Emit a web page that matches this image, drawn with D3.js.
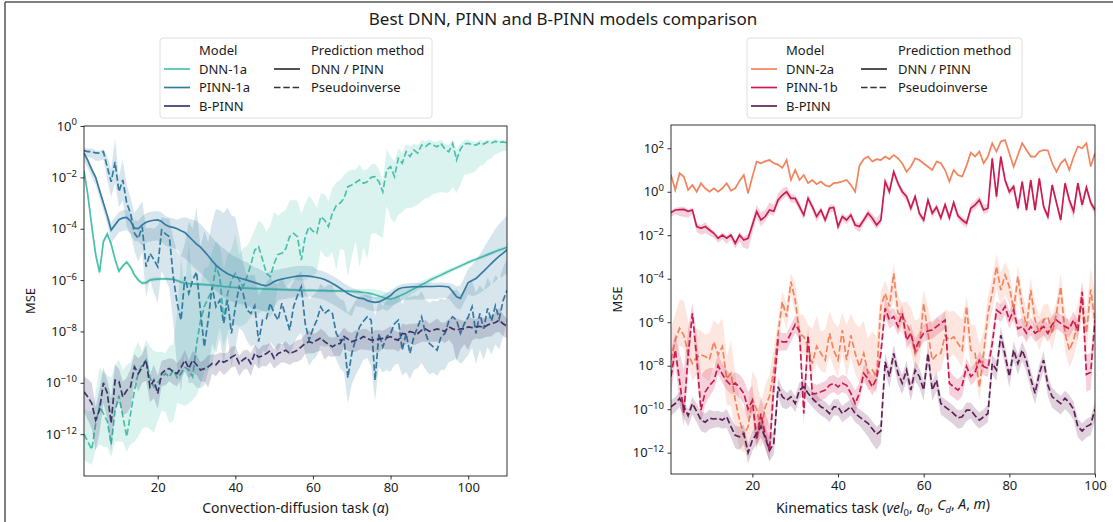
<!DOCTYPE html>
<meta charset="utf-8">
<style>
body { margin: 0; background: #fff; }
text { font-family: "Noto Sans", "DejaVu Sans", sans-serif; fill: #1a1a1a; }
</style>
<svg width="1113" height="522"></svg>
<script src="https://cdn.jsdelivr.net/npm/d3@7/dist/d3.min.js"></script>
<script>

// ---- data (log10 of MSE) ----
// convection-diffusion task, alpha = 1..110
var cdTasks = d3.range(1, 111);
var cdModels = ["DNN-1a", "PINN-1a", "B-PINN"];

var cdDnnNet = [-1.75,-2.7,-3.9,-5.0,-5.7,-4.5,-4.2,-4.6,-5.2,-5.65,
  -5.45,-5.3,-5.5,-5.8,-6.0,-6.12,-6.1,-6.0,-5.97,-5.96,
  -5.95,-5.95,-5.96,-5.97,-6.02,-6.08,-6.12,-6.14,-6.15,-6.16,
  -6.17,-6.18,-6.19,-6.2,-6.22,-6.23,-6.25,-6.26,-6.28,-6.29,
  -6.3,-6.31,-6.31,-6.32,-6.33,-6.33,-6.34,-6.35,-6.35,-6.36,
  -6.36,-6.37,-6.37,-6.38,-6.38,-6.39,-6.39,-6.4,-6.4,-6.4,
  -6.41,-6.41,-6.41,-6.42,-6.42,-6.42,-6.42,-6.43,-6.43,-6.44,
  -6.45,-6.46,-6.48,-6.5,-6.53,-6.57,-6.62,-6.67,-6.72,-6.74,
  -6.7,-6.64,-6.57,-6.5,-6.42,-6.34,-6.26,-6.18,-6.1,-6.02,
  -5.94,-5.87,-5.8,-5.73,-5.66,-5.59,-5.52,-5.45,-5.38,-5.31,
  -5.25,-5.19,-5.13,-5.07,-5.01,-4.95,-4.89,-4.83,-4.78,-4.73];
var cdDnnNetSpread = [0.15,0.15,0.2,0.2,0.15,0.12,0.1,0.1,0.1,0.1,
  0.08,0.08,0.08,0.08,0.08,0.08,0.08,0.08,0.08,0.08,
  0.06,0.06,0.06,0.06,0.06,0.06,0.06,0.06,0.06,0.06,
  0.06,0.06,0.06,0.06,0.06,0.06,0.06,0.06,0.06,0.06,
  0.06,0.06,0.06,0.06,0.06,0.06,0.06,0.06,0.06,0.06,
  0.06,0.06,0.06,0.06,0.06,0.06,0.06,0.06,0.06,0.06,
  0.06,0.06,0.06,0.06,0.06,0.06,0.06,0.06,0.06,0.06,
  0.1,0.12,0.14,0.16,0.18,0.2,0.22,0.24,0.25,0.25,
  0.25,0.24,0.22,0.2,0.18,0.16,0.15,0.14,0.13,0.12,
  0.11,0.1,0.1,0.1,0.1,0.08,0.08,0.08,0.08,0.08,
  0.08,0.08,0.08,0.08,0.08,0.08,0.08,0.08,0.08,0.08];

var cdDnnPi = [-12.0,-12.3,-12.6,-11.6,-10.9,-11.2,-11.5,-12.4,-11.1,-10.5,
  -11.3,-12.1,-11.2,-10.3,-9.6,-9.3,-9.12,-9.8,-10.16,-10.0,
  -9.8,-9.64,-9.77,-9.5,-9.8,-9.64,-9.4,-9.5,-9.77,-8.5,
  -7.6,-7.04,-6.7,-6.4,-5.48,-5.87,-7.56,-6.52,-6.0,-5.74,
  -6.0,-6.26,-5.87,-5.4,-4.83,-4.7,-5.2,-5.74,-5.87,-5.35,
  -5.0,-4.96,-4.77,-4.3,-4.18,-4.31,-5.22,-4.31,-3.92,-4.1,
  -4.18,-3.53,-3.66,-3.92,-3.4,-3.1,-3.0,-2.82,-2.36,-2.3,
  -2.2,-2.1,-2.23,-2.17,-2.0,-1.97,-2.17,-2.56,-1.71,-1.58,
  -1.97,-1.26,-1.45,-1.0,-1.19,-0.94,-1.06,-0.74,-0.8,-0.68,
  -0.75,-0.81,-0.68,-0.9,-1.0,-0.68,-1.32,-0.9,-0.7,-0.68,
  -0.72,-0.74,-0.66,-0.7,-0.62,-0.66,-0.6,-0.64,-0.62,-0.66];
var cdDnnPiUp = [1.0,1.2,1.5,1.2,1.5,1.6,1.8,2.6,1.8,1.4,
  1.8,2.8,2.0,1.6,1.2,0.5,0.8,1.2,1.4,1.2,
  1.0,0.8,1.2,1.0,2.5,4.5,3.0,5.0,3.5,2.5,
  1.5,1.5,1.2,1.5,1.0,1.2,2.0,1.5,1.2,1.5,
  1.0,1.5,1.2,1.0,0.8,1.0,1.4,1.6,2.0,2.0,
  1.5,1.6,1.5,1.4,1.3,1.4,1.8,1.3,1.2,1.2,
  1.0,0.9,1.0,1.0,1.0,0.9,0.9,0.9,0.6,0.6,
  0.5,0.6,0.5,0.5,0.5,0.5,0.5,0.4,0.8,0.4,
  0.6,0.4,0.4,0.3,0.4,0.25,0.3,0.2,0.2,0.15,
  0.15,0.2,0.15,0.2,0.25,0.15,0.4,0.2,0.15,0.15,
  0.12,0.12,0.12,0.12,0.1,0.1,0.1,0.1,0.1,0.1];
var cdDnnPiDn = [1.0,0.8,0.6,1.0,1.5,1.3,1.0,0.5,1.2,1.8,
  1.0,0.6,1.2,2.0,2.5,2.5,2.6,2.0,1.8,1.5,
  1.3,1.5,1.8,2.0,1.0,1.2,1.5,1.3,0.9,2.0,
  2.5,2.5,2.8,3.0,3.0,2.0,1.0,1.5,1.8,2.0,
  1.8,1.5,1.8,2.0,2.5,2.6,2.0,1.5,1.6,1.8,
  1.2,1.4,1.5,1.8,1.8,1.7,0.8,1.7,2.0,1.8,
  1.5,1.3,1.4,1.2,1.5,2.5,1.8,2.0,3.5,2.8,
  2.3,3.4,2.5,3.0,2.2,2.2,2.1,1.8,1.4,2.0,
  1.8,2.2,1.9,2.2,2.0,2.2,2.0,2.2,2.0,2.1,
  1.9,1.8,1.9,1.7,1.6,1.7,1.3,1.4,1.2,1.2,
  1.1,1.0,0.9,0.8,0.7,0.6,0.5,0.4,0.35,0.3];

var cdPinnNet = [-1.06,-1.35,-1.7,-2.0,-2.5,-3.0,-3.5,-4.05,-3.85,-3.65,
  -3.58,-3.56,-3.7,-3.98,-4.0,-3.85,-3.75,-3.7,-3.67,-3.66,
  -3.72,-3.85,-3.92,-3.95,-4.0,-4.08,-4.15,-4.3,-4.45,-4.6,
  -4.72,-4.88,-5.05,-5.25,-5.42,-5.55,-5.66,-5.75,-5.82,-5.88,
  -5.92,-5.96,-6.0,-6.05,-6.1,-6.15,-6.2,-6.22,-6.15,-6.06,
  -6.0,-5.96,-5.93,-5.9,-5.87,-5.85,-5.84,-5.84,-5.85,-5.87,
  -5.9,-5.93,-5.98,-6.05,-6.13,-6.22,-6.32,-6.42,-6.52,-6.6,
  -6.66,-6.7,-6.72,-6.8,-6.84,-6.87,-6.85,-6.78,-6.7,-6.6,
  -6.45,-6.35,-6.3,-6.28,-6.27,-6.26,-6.26,-6.26,-6.25,-6.25,
  -6.25,-6.24,-6.24,-6.25,-6.27,-6.45,-6.65,-6.71,-6.4,-6.1,
  -6.02,-5.94,-5.8,-5.65,-5.5,-5.35,-5.2,-5.07,-4.95,-4.83];
var cdPinnNetUp = [0.1,0.1,0.1,0.1,0.1,0.1,0.1,0.3,0.3,0.3,
  0.3,0.3,0.3,0.3,0.3,0.35,0.35,0.35,0.35,0.35,
  0.35,0.35,0.35,0.35,0.35,0.5,0.6,0.7,0.8,0.9,
  0.9,0.9,0.9,0.9,0.9,0.9,0.9,0.85,0.8,0.8,
  0.75,0.7,0.7,0.65,0.6,0.6,0.55,0.5,0.5,0.45,
  0.4,0.4,0.4,0.4,0.4,0.4,0.4,0.4,0.4,0.4,
  0.3,0.3,0.3,0.3,0.3,0.3,0.3,0.3,0.3,0.3,
  0.3,0.3,0.2,0.2,0.2,0.2,0.2,0.2,0.2,0.2,
  0.15,0.15,0.15,0.15,0.15,0.15,0.15,0.15,0.15,0.15,
  0.15,0.15,0.15,0.15,0.15,0.3,0.4,0.5,0.5,0.55,
  0.6,0.7,0.8,0.9,1.0,1.1,1.2,1.25,1.3,1.35];
var cdPinnNetDn = [0.3,0.3,0.3,0.3,0.3,0.3,0.3,0.5,0.5,0.5,
  0.5,0.5,0.5,0.5,0.5,0.8,0.8,0.8,0.8,0.8,
  0.8,0.8,0.8,0.8,0.8,1.0,1.0,1.0,1.0,1.0,
  1.0,1.0,1.0,1.0,1.0,1.0,1.0,1.0,1.0,1.0,
  1.0,1.0,1.0,1.0,1.0,1.0,1.0,1.0,1.0,1.0,
  0.8,0.8,0.8,0.8,0.8,0.8,0.8,0.8,0.8,0.8,
  0.8,0.8,0.8,0.8,0.8,0.8,0.8,0.8,0.8,0.8,
  0.35,0.35,0.35,0.35,0.35,0.35,0.35,0.35,0.5,0.5,
  0.5,0.5,0.5,0.5,0.5,0.5,0.5,0.5,0.5,0.5,
  0.5,0.5,0.45,0.45,0.45,0.45,0.45,0.45,0.45,0.45,
  0.6,0.65,0.7,0.75,0.8,0.8,0.85,0.85,0.9,0.9];

var cdPinnPi = [-0.96,-1.0,-1.0,-1.05,-1.06,-1.0,-1.6,-2.17,-1.4,-2.56,
  -2.1,-3.0,-3.4,-4.18,-4.38,-3.92,-5.48,-4.96,-5.2,-5.48,
  -4.05,-4.2,-4.31,-5.87,-6.9,-7.56,-5.87,-6.52,-6.0,-5.68,
  -7.2,-8.6,-7.56,-6.26,-7.04,-6.78,-7.69,-6.78,-8.08,-7.04,
  -6.26,-6.52,-7.17,-7.3,-7.0,-8.4,-7.56,-7.5,-6.9,-7.3,
  -7.56,-6.9,-7.43,-7.95,-7.04,-6.6,-6.26,-7.69,-8.34,-7.9,
  -7.56,-7.04,-7.3,-7.17,-7.3,-8.08,-8.34,-8.3,-9.8,-8.86,
  -8.3,-7.82,-7.6,-7.43,-7.56,-9.9,-8.08,-8.6,-8.2,-8.08,
  -7.7,-7.56,-8.73,-8.08,-8.86,-8.2,-7.82,-7.43,-8.08,-8.47,
  -8.6,-8.73,-8.2,-8.08,-7.6,-7.43,-7.56,-8.08,-7.7,-7.43,
  -7.04,-8.08,-7.3,-7.9,-7.1,-7.6,-7.0,-7.5,-6.8,-6.4];
var cdPinnPiUp = [0.1,0.12,0.12,0.1,0.1,0.1,0.4,0.5,0.9,0.6,
  0.8,0.7,0.6,0.8,1.2,1.0,1.5,1.0,1.2,1.6,
  0.5,0.6,0.7,1.5,2.0,2.5,1.3,2.8,2.0,2.5,
  2.5,4.5,3.0,2.5,3.8,3.5,4.3,3.6,4.6,3.5,
  2.0,1.2,1.3,1.5,1.2,1.8,1.2,1.4,1.0,1.2,
  1.4,1.0,1.2,1.6,1.0,0.8,0.6,1.3,1.6,1.3,
  1.1,0.9,1.0,1.0,1.1,1.5,1.6,1.5,2.5,1.8,
  1.5,1.2,1.0,0.9,1.0,2.5,1.3,1.6,1.4,1.3,
  1.0,1.0,1.8,1.4,2.2,1.6,1.2,1.0,1.3,1.6,
  1.8,1.9,1.5,1.3,1.0,1.0,1.2,1.5,1.3,1.2,
  1.0,1.6,1.1,1.5,1.2,1.4,1.2,1.5,1.3,1.2];
var cdPinnPiDn = [0.2,0.2,0.25,0.3,0.3,0.3,0.5,0.6,0.8,0.6,
  0.8,0.9,0.8,0.7,0.9,1.0,1.2,1.0,1.3,1.4,
  1.6,1.8,2.0,1.8,2.5,2.8,3.0,3.5,4.0,4.5,
  3.0,1.5,2.0,2.2,1.8,1.5,1.6,1.4,1.3,1.6,
  1.6,1.5,1.2,1.3,1.5,1.0,1.2,1.3,1.5,1.3,
  1.2,1.5,1.3,1.0,1.5,1.6,1.8,1.2,1.0,1.2,
  1.4,1.5,1.3,1.4,1.5,1.0,1.1,1.3,1.0,1.2,
  1.4,1.6,1.5,1.6,1.8,0.8,1.3,1.0,1.3,1.5,
  1.6,1.7,1.0,1.5,1.0,1.3,1.6,1.8,1.4,1.2,
  1.0,1.0,1.3,1.4,1.6,1.7,1.5,1.2,1.4,1.5,
  1.6,1.2,1.4,1.2,1.5,1.3,1.5,1.2,1.4,1.3];

var cdBpinnPi = [-10.35,-10.55,-10.8,-11.45,-11.06,-10.0,-10.4,-11.58,-9.9,-9.95,
  -10.55,-10.3,-10.16,-9.38,-9.64,-9.4,-9.12,-10.16,-9.9,-10.42,
  -9.64,-9.5,-9.44,-9.57,-9.64,-9.4,-9.12,-9.44,-9.12,-9.3,
  -9.5,-9.45,-9.38,-9.25,-9.3,-9.12,-9.2,-9.12,-9.0,-8.92,
  -9.25,-9.1,-9.0,-9.25,-8.86,-9.0,-8.95,-8.86,-8.75,-9.05,
  -8.86,-8.8,-8.73,-8.86,-8.8,-8.73,-8.6,-8.47,-8.4,-8.45,
  -8.34,-8.25,-8.4,-8.5,-8.6,-8.5,-8.47,-8.2,-8.3,-8.4,
  -8.34,-8.3,-8.2,-8.27,-8.34,-8.34,-8.3,-8.27,-8.25,-8.2,
  -8.3,-8.34,-8.08,-8.1,-8.0,-8.05,-8.08,-7.95,-7.9,-8.0,
  -7.95,-7.9,-7.95,-8.0,-7.82,-7.9,-7.95,-7.9,-7.9,-7.82,
  -7.85,-7.82,-7.8,-7.85,-7.75,-7.7,-7.65,-7.56,-7.7,-7.8];
var cdBpinnPiUp = [0.6,0.7,0.8,0.5,0.8,0.6,0.5,1.0,0.6,0.5,
  0.6,0.5,0.7,0.5,0.6,0.5,0.6,0.5,0.6,0.7,
  0.5,0.4,0.4,0.5,0.4,0.35,0.4,0.3,0.35,0.4,
  0.3,0.35,0.45,0.35,0.4,0.3,0.35,0.3,0.4,0.35,
  0.3,0.35,0.3,0.4,0.35,0.3,0.4,0.35,0.3,0.35,
  0.4,0.3,0.35,0.3,0.35,0.4,0.3,0.35,0.45,0.35,
  0.3,0.35,0.4,0.3,0.35,0.3,0.4,0.35,0.3,0.35,
  0.4,0.35,0.3,0.35,0.3,0.4,0.35,0.3,0.35,0.4,
  0.35,0.3,0.4,0.35,0.3,0.35,0.4,0.3,0.35,0.3,
  0.35,0.4,0.3,0.35,0.3,0.4,0.45,0.35,0.3,0.4,
  0.35,0.3,0.4,0.35,0.3,0.35,0.4,0.45,0.35,0.3];
var cdBpinnPiDn = [0.8,0.9,1.0,1.2,0.9,0.8,1.0,1.1,1.2,0.8,
  0.7,0.9,0.8,0.6,0.7,0.6,0.8,0.6,0.7,0.6,
  0.5,0.6,0.5,0.5,0.5,0.4,0.45,0.4,0.5,0.4,
  0.45,0.5,0.8,0.4,0.45,0.4,0.5,0.45,0.4,0.45,
  0.5,0.4,0.45,0.5,0.4,0.45,0.4,0.5,0.45,0.4,
  0.45,0.4,0.5,0.45,0.4,0.45,0.5,0.4,0.45,0.4,
  0.45,0.5,0.7,0.45,0.4,0.45,0.5,0.4,0.45,0.4,
  0.45,0.4,0.5,0.45,0.4,0.45,0.5,0.4,0.45,0.5,
  0.4,0.45,0.5,0.4,0.45,0.5,0.4,0.45,0.5,0.4,
  0.45,0.5,0.4,0.45,0.5,0.6,1.2,0.8,0.6,0.9,
  0.5,0.45,0.5,0.4,0.45,0.5,0.4,0.45,0.5,0.45];

// kinematics task, 1..100
var knTasks = d3.range(1, 101);
var knModels = ["DNN-2a", "PINN-1b", "B-PINN"];

var knDnnNet = [0.77,0.08,0.85,0.69,0.08,0.31,0.0,0.39,0.15,0.0,
  0.16,0.0,0.16,0.39,0.05,0.16,0.5,0.77,-0.07,0.69,
  1.39,1.31,1.4,1.46,1.31,1.25,1.1,1.46,0.54,1.0,
  0.54,0.77,0.4,0.54,0.35,0.47,0.3,0.24,0.4,0.42,
  0.47,0.54,0.31,0.0,1.2,1.5,1.62,1.39,1.5,1.46,
  1.62,1.5,1.69,1.54,1.3,0.92,1.15,1.54,1.46,1.3,
  1.15,1.0,1.39,1.31,1.0,0.47,1.0,0.77,0.7,1.2,
  1.8,1.62,1.85,1.31,1.62,2.23,1.85,2.31,2.38,1.77,
  1.15,1.69,2.23,1.92,1.62,1.62,1.85,1.92,1.9,1.31,
  0.92,1.31,1.5,1.0,1.6,2.08,2.0,2.23,1.16,1.77];
var knDnnNetSpread = [0.08,0.1,0.08,0.06,0.05,0.05,0.06,0.1,0.08,0.06,
  0.05,0.05,0.05,0.06,0.05,0.05,0.06,0.08,0.05,0.06,
  0.05,0.05,0.05,0.06,0.05,0.05,0.06,0.05,0.08,0.05,
  0.05,0.05,0.06,0.05,0.05,0.05,0.05,0.06,0.05,0.05,
  0.05,0.05,0.06,0.08,0.06,0.05,0.05,0.05,0.06,0.05,
  0.05,0.05,0.05,0.06,0.05,0.05,0.05,0.05,0.06,0.05,
  0.05,0.05,0.05,0.06,0.05,0.06,0.05,0.05,0.05,0.06,
  0.05,0.05,0.05,0.06,0.05,0.05,0.06,0.05,0.05,0.06,
  0.05,0.05,0.05,0.05,0.06,0.05,0.05,0.05,0.06,0.05,
  0.05,0.05,0.05,0.06,0.05,0.05,0.06,0.05,0.06,0.08];

var knDnnPi = [-7.74,-6.82,-6.28,-6.6,-7.43,-7.9,-7.6,-7.5,-7.58,-7.7,
  -6.9,-7.5,-7.12,-8.6,-8.35,-9.58,-10.5,-11.2,-10.8,-9.58,
  -10.0,-10.95,-9.9,-9.4,-8.2,-6.51,-5.06,-5.75,-4.14,-4.98,
  -6.51,-6.67,-7.12,-7.9,-7.1,-7.43,-7.74,-6.51,-7.3,-7.74,
  -6.36,-7.74,-6.6,-7.43,-8.04,-7.43,-8.35,-8.2,-8.5,-5.28,
  -4.67,-5.28,-3.75,-5.59,-5.7,-6.05,-6.51,-7.43,-7.12,-5.13,
  -6.51,-7.74,-7.5,-7.43,-6.6,-6.82,-6.67,-6.97,-7.28,-5.28,
  -7.28,-7.43,-9.0,-7.43,-5.59,-4.67,-3.44,-4.52,-3.83,-4.37,
  -5.44,-3.9,-5.28,-6.2,-4.52,-5.9,-6.51,-5.9,-5.75,-6.51,
  -5.59,-4.37,-6.51,-7.28,-6.82,-6.0,-5.0,-6.5,-4.5,-6.0];
var knDnnPiUp = [1.5,1.2,1.3,1.6,1.5,1.2,1.3,1.1,1.0,1.2,
  1.0,1.4,1.3,1.0,1.5,1.2,1.0,1.2,1.0,1.3,
  1.4,1.2,1.0,1.0,1.0,0.6,0.5,0.6,0.4,0.8,
  0.9,1.0,1.0,1.6,1.4,1.0,1.4,1.0,1.3,1.5,
  0.8,1.6,1.0,1.4,1.8,1.5,1.6,1.8,1.8,0.7,
  0.6,0.6,0.5,0.8,0.6,1.0,1.2,1.5,1.3,0.6,
  1.2,1.6,1.7,1.5,1.2,1.3,1.2,1.3,1.4,0.5,
  1.2,1.3,2.0,1.0,0.8,0.7,0.6,0.8,0.6,0.7,
  0.6,0.5,0.6,0.8,0.6,0.8,0.8,0.7,0.6,0.8,
  0.6,0.6,1.0,1.2,1.0,0.8,0.8,1.0,1.0,1.4];
var knDnnPiDn = [0.6,0.8,0.8,0.6,0.6,0.8,0.8,0.9,1.0,1.0,
  1.0,0.8,1.0,1.2,1.5,1.4,1.3,0.8,1.0,1.5,
  1.5,0.8,1.2,1.0,1.0,0.8,0.6,0.6,0.6,0.6,
  0.8,0.8,0.8,0.6,0.8,0.8,0.6,1.0,0.8,0.8,
  1.0,0.8,1.0,0.9,0.8,1.0,0.8,0.8,0.8,0.8,
  1.0,0.8,1.0,0.8,0.8,0.8,0.8,0.8,0.8,1.0,
  0.8,0.8,0.8,0.8,0.8,0.8,0.8,0.8,0.8,1.2,
  0.8,0.8,0.6,0.8,0.8,0.8,1.0,0.8,0.9,0.8,
  0.8,0.8,0.8,0.8,0.8,0.8,0.8,0.8,0.8,0.8,
  0.8,1.0,0.8,0.8,0.8,0.8,0.8,1.0,0.8,0.8];

var knPinnNet = [-0.96,-0.84,-0.82,-0.81,-0.9,-0.84,-1.6,-1.68,-1.6,-1.76,
  -1.91,-2.14,-1.99,-2.14,-1.99,-2.37,-1.99,-2.22,-2.14,-1.53,
  -0.91,-1.3,-1.14,-0.84,-0.9,-0.38,-0.15,0.0,-0.3,-0.3,
  -0.68,-1.07,-0.3,-0.68,-1.14,-0.84,-1.3,-0.76,-0.72,-1.6,
  -1.14,-1.3,-1.07,-1.53,-1.6,-1.3,-0.99,-1.22,-1.53,-1.3,
  0.47,0.0,0.92,0.39,0.0,-0.22,-0.76,-0.22,-1.0,-1.3,
  -0.38,-0.99,-0.7,-1.2,-0.6,-1.2,-0.5,-1.1,-1.3,-1.45,
  -0.76,-0.6,-0.38,-0.84,-0.76,1.54,-0.22,1.62,0.54,0.0,
  0.24,-0.76,0.47,-0.84,0.54,-0.84,0.62,-0.68,-1.14,0.31,
  -0.5,-1.3,0.39,-0.38,-0.9,0.4,-0.6,0.2,-0.5,-0.84];
var knPinnNetUp = [0.1,0.1,0.12,0.12,0.1,0.1,0.15,0.15,0.2,0.15,
  0.12,0.12,0.12,0.12,0.12,0.15,0.15,0.15,0.2,0.25,
  0.3,0.35,0.3,0.35,0.3,0.3,0.3,0.25,0.2,0.15,
  0.2,0.15,0.15,0.15,0.15,0.15,0.15,0.15,0.15,0.15,
  0.15,0.15,0.15,0.15,0.15,0.15,0.2,0.2,0.3,0.35,
  0.2,0.2,0.15,0.15,0.15,0.15,0.15,0.15,0.15,0.15,
  0.15,0.15,0.15,0.15,0.15,0.15,0.15,0.15,0.15,0.15,
  0.2,0.2,0.2,0.25,0.2,0.15,0.2,0.15,0.15,0.15,
  0.15,0.15,0.15,0.15,0.15,0.15,0.15,0.15,0.15,0.15,
  0.15,0.15,0.15,0.15,0.15,0.15,0.15,0.15,0.15,0.15];
var knPinnNetDn = [0.2,0.2,0.3,0.35,0.3,0.2,0.25,0.3,0.3,0.25,
  0.2,0.2,0.2,0.25,0.2,0.25,0.3,0.35,0.5,0.4,
  0.3,0.3,0.2,0.2,0.2,0.2,0.2,0.2,0.2,0.2,
  0.2,0.2,0.2,0.2,0.25,0.2,0.2,0.2,0.2,0.25,
  0.2,0.2,0.2,0.2,0.25,0.2,0.2,0.2,0.2,0.2,
  0.2,0.2,0.2,0.2,0.2,0.2,0.2,0.2,0.2,0.2,
  0.2,0.2,0.2,0.2,0.2,0.2,0.2,0.2,0.2,0.2,
  0.2,0.2,0.2,0.2,0.2,0.3,0.3,0.3,0.2,0.2,
  0.2,0.2,0.2,0.2,0.2,0.2,0.2,0.2,0.2,0.2,
  0.2,0.2,0.2,0.3,0.35,0.3,0.25,0.2,0.2,0.2];

var knPinnPi = [-8.5,-7.28,-8.7,-10.2,-7.5,-5.59,-7.6,-10.04,-9.2,-8.9,
  -8.7,-8.0,-8.4,-8.7,-8.9,-8.8,-9.0,-9.27,-10.0,-9.6,
  -11.4,-10.2,-11.2,-11.9,-9.0,-6.82,-6.9,-6.9,-6.5,-6.1,
  -6.4,-10.2,-6.6,-9.3,-9.27,-9.2,-9.12,-8.9,-8.81,-8.97,
  -8.81,-8.9,-9.27,-9.74,-9.27,-8.35,-8.6,-8.97,-8.6,-7.43,
  -5.36,-5.9,-5.74,-6.2,-5.59,-6.82,-6.51,-7.28,-6.82,-6.51,
  -6.4,-6.36,-6.2,-6.05,-5.9,-8.81,-8.97,-9.12,-8.9,-8.04,
  -8.5,-8.3,-7.74,-8.04,-8.12,-7.0,-5.44,-5.59,-5.28,-5.9,
  -5.44,-6.3,-6.2,-6.5,-6.2,-6.51,-6.36,-6.2,-6.51,-6.1,
  -5.9,-6.05,-6.2,-6.3,-5.9,-6.4,-4.6,-8.4,-8.3,-5.9];
var knPinnPiUp = [1.2,0.8,1.3,2.0,1.2,0.5,1.0,1.6,1.0,0.8,
  0.6,0.5,0.5,0.5,0.5,0.5,0.6,0.6,0.8,0.7,
  1.0,0.8,1.0,1.2,0.8,0.4,0.4,0.4,0.4,0.4,
  0.4,1.0,0.4,0.5,0.4,0.4,0.4,0.4,0.4,0.4,
  0.4,0.4,0.5,0.6,0.5,0.4,0.5,0.5,0.5,0.5,
  0.5,0.4,0.4,0.4,0.4,0.5,0.4,0.5,0.4,0.4,
  0.4,0.4,0.4,0.4,0.4,0.6,0.5,0.5,0.5,0.4,
  0.4,0.4,0.4,0.4,0.4,0.5,0.4,0.4,0.4,0.4,
  0.4,0.4,0.4,0.4,0.4,0.4,0.4,0.4,0.4,0.4,
  0.4,0.4,0.4,0.4,0.4,0.4,0.5,0.9,0.9,0.5];
var knPinnPiDn = [0.8,0.6,1.0,0.6,0.8,0.5,0.8,0.6,0.6,0.5,
  0.4,0.4,0.4,0.4,0.4,0.5,0.5,0.5,0.6,0.6,
  0.5,0.6,0.6,0.5,0.8,0.5,0.4,0.4,0.4,0.4,
  0.4,0.5,0.4,0.4,0.4,0.4,0.4,0.4,0.4,0.4,
  0.4,0.4,0.4,0.4,0.4,0.4,0.4,0.4,0.4,0.4,
  0.4,0.4,0.4,0.4,0.4,0.4,0.4,0.4,0.4,0.4,
  0.4,0.4,0.4,0.4,0.4,0.5,0.5,0.5,0.5,0.4,
  0.4,0.4,0.4,0.4,0.4,0.4,0.4,0.4,0.4,0.4,
  0.4,0.4,0.4,0.4,0.4,0.4,0.4,0.4,0.4,0.4,
  0.4,0.4,0.4,0.4,0.4,0.4,0.5,0.8,0.8,0.5];

var knBpinnPi = [-9.89,-9.74,-9.5,-9.89,-10.3,-9.74,-10.1,-10.5,-10.6,-10.42,
  -10.45,-10.42,-10.5,-10.35,-10.8,-11.2,-11.27,-11.12,-12.0,-11.42,
  -11.12,-10.8,-11.3,-11.9,-11.58,-8.97,-9.43,-9.6,-9.43,-9.74,
  -9.12,-8.97,-9.27,-9.5,-9.7,-9.89,-10.0,-10.2,-9.89,-9.89,
  -10.2,-10.04,-9.89,-10.2,-10.35,-10.5,-10.65,-10.9,-11.15,-11.0,
  -7.82,-8.5,-7.43,-8.35,-8.81,-8.2,-9.12,-8.2,-8.5,-9.12,
  -7.43,-9.12,-8.66,-9.74,-9.89,-10.04,-10.2,-10.4,-10.35,-10.04,
  -10.04,-10.3,-10.5,-10.35,-10.2,-7.9,-8.2,-6.6,-7.5,-8.5,
  -7.28,-7.9,-7.28,-7.8,-8.6,-9.27,-8.35,-7.74,-8.9,-9.43,
  -9.58,-9.74,-9.5,-9.7,-10.0,-10.8,-11.0,-10.8,-10.7,-10.0];
var knBpinnPiUp = [0.3,0.3,0.3,0.3,0.3,0.3,0.35,0.4,0.4,0.4,
  0.35,0.35,0.35,0.35,0.4,0.45,0.45,0.4,0.4,0.4,
  0.4,0.4,0.5,0.6,0.6,0.4,0.4,0.35,0.35,0.35,
  0.35,0.35,0.35,0.35,0.35,0.35,0.35,0.35,0.35,0.35,
  0.35,0.35,0.35,0.35,0.35,0.35,0.35,0.35,0.35,0.35,
  0.4,0.4,0.4,0.4,0.4,0.4,0.4,0.4,0.4,0.4,
  0.4,0.4,0.4,0.35,0.35,0.35,0.35,0.35,0.35,0.35,
  0.35,0.35,0.35,0.35,0.4,0.4,0.4,0.4,0.4,0.4,
  0.4,0.4,0.4,0.4,0.4,0.4,0.4,0.4,0.4,0.4,
  0.35,0.35,0.35,0.35,0.35,0.35,0.35,0.35,0.35,0.35];
var knBpinnPiDn = [0.4,0.4,0.4,0.5,0.5,0.5,0.5,0.5,0.5,0.5,
  0.4,0.4,0.4,0.5,0.5,0.6,0.6,0.5,0.5,0.5,
  0.5,0.5,0.5,0.5,0.5,0.5,0.5,0.4,0.4,0.4,
  0.4,0.4,0.4,0.4,0.4,0.4,0.4,0.4,0.4,0.4,
  0.4,0.4,0.4,0.4,0.4,0.5,0.6,0.7,0.7,0.6,
  0.5,0.5,0.5,0.5,0.5,0.5,0.5,0.5,0.5,0.5,
  0.5,0.5,0.5,0.5,0.5,0.5,0.5,0.5,0.5,0.5,
  0.4,0.4,0.4,0.4,0.4,0.5,0.5,0.5,0.5,0.5,
  0.5,0.5,0.5,0.5,0.5,0.5,0.5,0.5,0.5,0.5,
  0.5,0.5,0.5,0.5,0.5,0.5,0.5,0.5,0.5,0.5];

var methods = ["DNN / PINN", "Pseudoinverse"];
var cdColors = ["#49c1ad", "#357ba2", "#3e356b"];
var knColors = ["#f3845d", "#cb1b4f", "#611f53"];

// ---- drawing ----
var svg = d3.select("svg");
var DASH = "6.5,2.8";

// frame lines of the original screenshot
svg.append("line").attr("x1", 5).attr("y1", 2).attr("x2", 1113).attr("y2", 2)
    .attr("stroke", "#555").attr("stroke-width", 1.5);
svg.append("line").attr("x1", 5).attr("y1", 2).attr("x2", 5).attr("y2", 522)
    .attr("stroke", "#555").attr("stroke-width", 1.5);

svg.append("text")
    .attr("x", 563).attr("y", 25)
    .attr("text-anchor", "middle")
    .style("font-size", "17px")
    .text("Best DNN, PINN and B-PINN models comparison");

function check(name, arr, n) {
  if (arr.length !== n) throw new Error(name + " has " + arr.length + " values, expected " + n);
}

function drawPanel(p) {
  var x = d3.scaleLinear().domain(p.xDomain).range([p.left, p.right]);
  var y = d3.scaleLog().domain(p.yDomain).range([p.bottom, p.top]);

  svg.append("clipPath").attr("id", p.id)
    .append("rect")
      .attr("x", p.left).attr("y", p.top)
      .attr("width", p.right - p.left).attr("height", p.bottom - p.top);

  var plot = svg.append("g").attr("clip-path", "url(#" + p.id + ")");

  p.series.forEach(function (s) {
    check(s.name, s.mid, p.tasks.length);
    check(s.name + " up", s.up, p.tasks.length);
    check(s.name + " dn", s.dn, p.tasks.length);
    var pts = p.tasks.map(function (t, i) {
      return {t: t, m: Math.pow(10, s.mid[i]),
              lo: Math.pow(10, s.mid[i] - s.dn[i]), hi: Math.pow(10, s.mid[i] + s.up[i])};
    });
    plot.append("path").datum(pts)
        .attr("d", d3.area().x(function (d) { return x(d.t); })
                            .y0(function (d) { return y(d.lo); })
                            .y1(function (d) { return y(d.hi); }))
        .attr("fill", s.color).attr("fill-opacity", 0.2);
    plot.append("path").datum(pts)
        .attr("d", d3.line().x(function (d) { return x(d.t); })
                            .y(function (d) { return y(d.m); }))
        .attr("fill", "none")
        .attr("stroke", s.color)
        .attr("stroke-width", 1.7)
        .attr("stroke-dasharray", s.dashed ? DASH : null);
  });

  var xAxis = svg.append("g")
      .attr("transform", "translate(0," + p.bottom + ")")
      .call(d3.axisBottom(x).tickValues(p.xTicks).tickSize(3.5).tickPadding(3.5).tickFormat(d3.format("d")));
  var yAxis = svg.append("g")
      .attr("transform", "translate(" + p.left + ",0)")
      .call(d3.axisLeft(y).tickValues(p.yTicks).tickSize(3.5).tickPadding(3.5));

  [xAxis, yAxis].forEach(function (a) {
    a.select(".domain").remove();
    a.selectAll("text").style("font-size", "13px").attr("fill", "#1a1a1a")
        .style("font-family", '"Noto Sans", "DejaVu Sans", sans-serif');
    a.selectAll("line").attr("stroke", "#000").attr("stroke-width", 0.8);
  });

  yAxis.selectAll(".tick text").each(function (d) {
    var t = d3.select(this);
    var e = Math.round(Math.log10(d));
    t.text(null);
    t.append("tspan").text("10");
    t.append("tspan").attr("dy", "-0.55em").style("font-size", "9.5px")
        .text(e < 0 ? "\u2212" + (-e) : String(e));
  });

  svg.append("rect")
      .attr("x", p.left).attr("y", p.top)
      .attr("width", p.right - p.left).attr("height", p.bottom - p.top)
      .attr("fill", "none").attr("stroke", "#000").attr("stroke-width", 0.8);

  svg.append("text")
      .attr("transform", "translate(" + p.yLabelX + "," + ((p.top + p.bottom) / 2) + ") rotate(-90)")
      .attr("text-anchor", "middle")
      .attr("dy", "0.35em")
      .style("font-size", "13px")
      .text("MSE");

  var xl = svg.append("text")
      .attr("x", (p.left + p.right) / 2).attr("y", 513)
      .attr("text-anchor", "middle")
      .style("font-size", "14px");
  p.xLabel(xl);

  drawLegend(p.legend, p.models, p.colors);
}

function drawLegend(box, models, colors) {
  var g = svg.append("g").attr("transform", "translate(" + box.x + "," + box.y + ")");
  g.append("rect")
      .attr("width", box.w).attr("height", box.h).attr("rx", 3)
      .attr("fill", "#fff").attr("fill-opacity", 0.8)
      .attr("stroke", "#d5d5d5").attr("stroke-width", 0.8);
  var rowY = [12.5, 31, 49.5, 68];
  function label(xp, yp, txt) {
    g.append("text").attr("x", xp).attr("y", rowY[yp]).attr("dy", "0.35em")
        .style("font-size", "13px").text(txt);
  }
  function handle(xp, yp, color, dashed) {
    g.append("line").attr("x1", xp).attr("x2", xp + 26)
        .attr("y1", rowY[yp]).attr("y2", rowY[yp])
        .attr("stroke", color).attr("stroke-width", 1.7)
        .attr("stroke-dasharray", dashed ? DASH : null);
  }
  label(39, 0, "Model");
  models.forEach(function (m, i) {
    handle(4, i + 1, colors[i], false);
    label(39, i + 1, m);
  });
  label(151, 0, "Prediction method");
  methods.forEach(function (m, i) {
    handle(114, i + 1, "#333", i === 1);
    label(151, i + 1, m);
  });
}

drawPanel({
  id: "clip-cd",
  tasks: cdTasks,
  left: 84, right: 507, top: 126, bottom: 476,
  xDomain: [1, 110],
  yDomain: [Math.pow(10, -13.63), 1],
  xTicks: [20, 40, 60, 80, 100],
  yTicks: [1, 1e-2, 1e-4, 1e-6, 1e-8, 1e-10, 1e-12],
  yLabelX: 30,
  models: cdModels, colors: cdColors,
  legend: {x: 160, y: 38, w: 272, h: 80},
  series: [
    {name: "cdDnnNet", mid: cdDnnNet, up: cdDnnNetSpread, dn: cdDnnNetSpread, color: cdColors[0], dashed: false},
    {name: "cdDnnPi", mid: cdDnnPi, up: cdDnnPiUp, dn: cdDnnPiDn, color: cdColors[0], dashed: true},
    {name: "cdPinnNet", mid: cdPinnNet, up: cdPinnNetUp, dn: cdPinnNetDn, color: cdColors[1], dashed: false},
    {name: "cdPinnPi", mid: cdPinnPi, up: cdPinnPiUp, dn: cdPinnPiDn, color: cdColors[1], dashed: true},
    {name: "cdBpinnPi", mid: cdBpinnPi, up: cdBpinnPiUp, dn: cdBpinnPiDn, color: cdColors[2], dashed: true}
  ],
  xLabel: function (t) {
    t.append("tspan").text("Convection-diffusion task  (");
    t.append("tspan").style("font-style", "italic").text("\u03b1");
    t.append("tspan").text(")");
  }
});

drawPanel({
  id: "clip-kn",
  tasks: knTasks,
  left: 671, right: 1095, top: 125, bottom: 474,
  xDomain: [1, 100],
  yDomain: [Math.pow(10, -12.98), Math.pow(10, 3.07)],
  xTicks: [20, 40, 60, 80, 100],
  yTicks: [1e2, 1, 1e-2, 1e-4, 1e-6, 1e-8, 1e-10, 1e-12],
  yLabelX: 617,
  models: knModels, colors: knColors,
  legend: {x: 747, y: 38, w: 275, h: 80},
  series: [
    {name: "knDnnNet", mid: knDnnNet, up: knDnnNetSpread, dn: knDnnNetSpread, color: knColors[0], dashed: false},
    {name: "knDnnPi", mid: knDnnPi, up: knDnnPiUp, dn: knDnnPiDn, color: knColors[0], dashed: true},
    {name: "knPinnNet", mid: knPinnNet, up: knPinnNetUp, dn: knPinnNetDn, color: knColors[1], dashed: false},
    {name: "knPinnPi", mid: knPinnPi, up: knPinnPiUp, dn: knPinnPiDn, color: knColors[1], dashed: true},
    {name: "knBpinnPi", mid: knBpinnPi, up: knBpinnPiUp, dn: knBpinnPiDn, color: knColors[2], dashed: true}
  ],
  xLabel: function (t) {
    t.append("tspan").text("Kinematics task  (");
    t.append("tspan").style("font-style", "italic").text("vel");
    t.append("tspan").attr("dy", "0.3em").style("font-size", "9.5px").text("0");
    t.append("tspan").attr("dy", "-0.3em").text(", ");
    t.append("tspan").style("font-style", "italic").text("a");
    t.append("tspan").attr("dy", "0.3em").style("font-size", "9.5px").text("0");
    t.append("tspan").attr("dy", "-0.3em").text(", ");
    t.append("tspan").style("font-style", "italic").text("C");
    t.append("tspan").attr("dy", "0.3em").style("font-size", "9.5px").style("font-style", "italic").text("d");
    t.append("tspan").attr("dy", "-0.3em").text(", ");
    t.append("tspan").style("font-style", "italic").text("A");
    t.append("tspan").text(", ");
    t.append("tspan").style("font-style", "italic").text("m");
    t.append("tspan").text(")");
  }
});

</script>
